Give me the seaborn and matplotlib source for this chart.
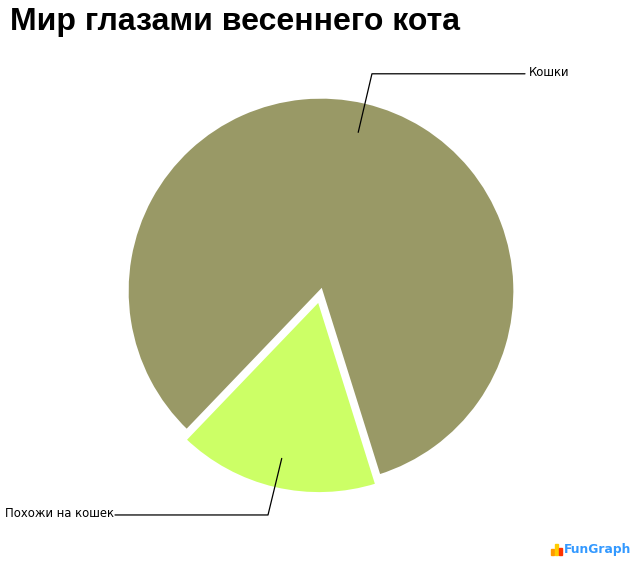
import numpy as np
import matplotlib.pyplot as plt
import seaborn as sns
from matplotlib.patches import Rectangle

# Chart data
title = "Мир глазами весеннего кота"
categories = ["Кошки", "Похожи на кошек"]
values = [83, 17]
colors = ["#999966", "#CCFF66"]

sns.set_theme(style="white")
plt.rcParams['font.family'] = ['DejaVu Sans']

W, H = 640, 565
fig = plt.figure(figsize=(W / 100, H / 100), dpi=100)
ax = fig.add_axes([0, 0, 1, 1])

cx, cy, r = 321, H - 291, 194
start = -72.6
wedges, _ = ax.pie(values, colors=colors, startangle=start, radius=r,
                   center=(cx, cy), explode=[0, 9], frame=True,
                   wedgeprops=dict(edgecolor="white", linewidth=2.4))
ax.set_xlim(0, W)
ax.set_ylim(0, H)
ax.set_aspect("auto")
ax.axis("off")

# Leader lines + labels
line_end = {0: 525, 1: 115}
for i, (w, lab) in enumerate(zip(wedges, categories)):
    ang = np.deg2rad((w.theta1 + w.theta2) / 2)
    wx, wy = w.center
    p0 = (wx + 0.84 * r * np.cos(ang), wy + 0.84 * r * np.sin(ang))
    p1 = (wx + 1.15 * r * np.cos(ang), wy + 1.15 * r * np.sin(ang))
    if i == 1:
        p1 = (p1[0], p1[1] + 2)
    xe = line_end[i]
    ax.plot([p0[0], p1[0], xe], [p0[1], p1[1], p1[1]], color="black", lw=0.9)
    if xe > p1[0]:
        ax.text(xe + 4, p1[1] + 1, lab, ha="left", va="center", fontsize=8.4, color="black")
    else:
        ax.text(xe - 1, p1[1] + 1, lab, ha="right", va="center", fontsize=8.4, color="black")

fig.text(10 / W, 1 - 22 / H, title, ha="left", va="center", fontsize=23,
         fontweight="bold", color="black", family=["Liberation Sans", "DejaVu Sans"])

# FunGraph logo
logo_bars = [(551, 6, "#ff9900"), (555, 11, "#ffcc00"), (559, 7, "#ff3300")]
for bx, bh, bc in logo_bars:
    fig.add_artist(Rectangle((bx / W, (H - 555) / H), 3 / W, bh / H,
                             transform=fig.transFigure, color=bc))
fig.text(564 / W, 1 - 549 / H, "FunGraph", ha="left", va="center", fontsize=8.8,
         fontweight="bold", color="#3399ff")

fig.savefig("out.png", dpi=100)
